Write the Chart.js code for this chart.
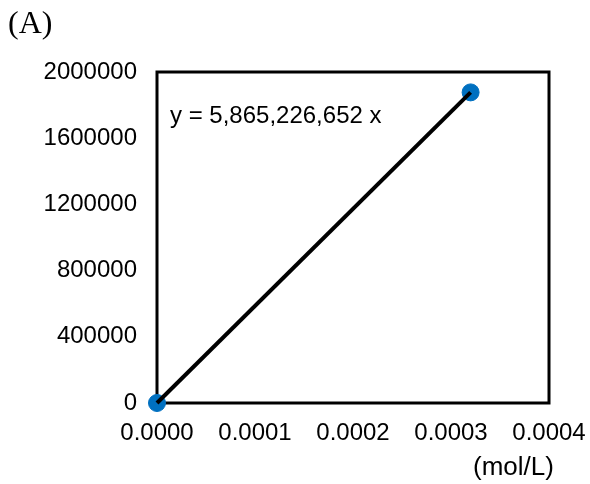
<!DOCTYPE html>
<html>
<head>
<meta charset="utf-8">
<script src="https://cdn.jsdelivr.net/npm/chart.js@4.4.0/dist/chart.umd.min.js"></script>
<style>
  html, body { margin: 0; padding: 0; background: #fff; }
</style>
</head>
<body>
<canvas id="chart" width="590" height="484"></canvas>
<script>
// data
const concentrations = [0, 0.00032];          // mol/L
const areas = [0, 1876872];
const slope = 5865226652;
const xTicks = [0, 0.0001, 0.0002, 0.0003, 0.0004];
const yTicks = [0, 400000, 800000, 1200000, 1600000, 2000000];

const points = concentrations.map((x, i) => ({ x: x, y: areas[i] }));
const trend = concentrations.map(x => ({ x: x, y: slope * x }));

// frame + extra labels
const boxPlugin = {
  id: 'box',
  beforeDatasetsDraw(chart) {
    const { ctx, chartArea: a } = chart;
    ctx.save();
    ctx.strokeStyle = '#000';
    ctx.lineWidth = 3;
    ctx.strokeRect(a.left, a.top, a.right - a.left, a.bottom - a.top);
    ctx.restore();
  },
  afterDraw(chart) {
    const { ctx } = chart;
    ctx.save();
    ctx.fillStyle = '#000';
    ctx.textBaseline = 'alphabetic';
    ctx.font = '32px "Liberation Serif"';
    ctx.fillText('(A)', 8, 33);
    ctx.font = '24px "Liberation Sans"';
    ctx.fillText('y = 5,865,226,652 x', 170, 123);
    ctx.font = '26px "Liberation Sans"';
    ctx.fillText('(mol/L)', 473, 475);
    ctx.restore();
  }
};

new Chart(document.getElementById('chart'), {
  type: 'scatter',
  data: {
    datasets: [
      {
        type: 'line',
        data: trend,
        borderColor: '#000',
        borderWidth: 4,
        pointRadius: 0,
        fill: false,
        clip: false,
        order: 0
      },
      {
        data: points,
        backgroundColor: '#0070C0',
        borderColor: '#0070C0',
        pointRadius: 8.5,
        clip: false,
        order: 1
      }
    ]
  },
  plugins: [boxPlugin],
  options: {
    responsive: false,
    animation: false,
    layout: { padding: { left: 0, right: 41, top: 72, bottom: 0 } },
    plugins: { legend: { display: false }, tooltip: { enabled: false } },
    scales: {
      x: {
        type: 'linear',
        min: 0,
        max: 0.0004,
        afterBuildTicks: axis => { axis.ticks = xTicks.map(v => ({ value: v })); },
        afterFit: axis => {
          axis.height = 81;
          axis.paddingLeft = 0;
          axis.paddingRight = 0;
        },
        grid: { display: false, drawTicks: false },
        border: { display: false },
        ticks: {
          color: '#000',
          font: { family: '"Liberation Sans"', size: 24 },
          padding: 16,
          maxRotation: 0,
          callback: v => v.toFixed(4)
        }
      },
      y: {
        min: 0,
        max: 2000000,
        afterBuildTicks: axis => { axis.ticks = yTicks.map(v => ({ value: v })); },
        afterFit: axis => {
          axis.width = 157;
          axis.paddingTop = 0;
          axis.paddingBottom = 0;
        },
        grid: { display: false, drawTicks: false },
        border: { display: false },
        ticks: {
          color: '#000',
          font: { family: '"Liberation Sans"', size: 24 },
          padding: 20,
          callback: v => String(v)
        }
      }
    }
  }
});
</script>
</body>
</html>
